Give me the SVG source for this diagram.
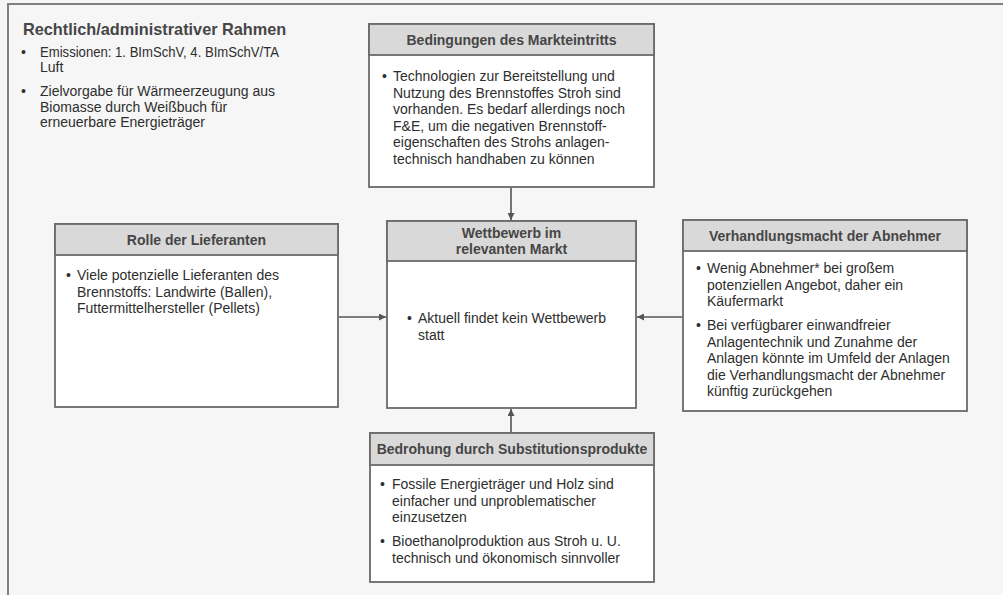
<svg xmlns="http://www.w3.org/2000/svg" width="1003" height="595" viewBox="0 0 1003 595">
<defs>
<style>
.bg{fill:#f6f6f6}
.frame{fill:none;stroke:#808080;stroke-width:2}
.box{fill:#ffffff;stroke:#6a6a6a;stroke-width:1.8}
.hdr{fill:#d9d9d9;stroke:#6a6a6a;stroke-width:1.8}
.ht{font-family:"Liberation Sans",Arial,sans-serif;font-size:14px;font-weight:bold;fill:#464646;text-anchor:middle}
.t{font-family:"Liberation Sans",Arial,sans-serif;font-size:14px;fill:#2e2e2e}
.title{font-family:"Liberation Sans",Arial,sans-serif;font-size:16.3px;font-weight:bold;fill:#464646}
.conn{stroke:#555;stroke-width:1.6;fill:none}
</style>
<marker id="ah" viewBox="0 0 10 10" refX="10" refY="5" markerWidth="7" markerHeight="7" markerUnits="userSpaceOnUse" orient="auto">
<path d="M0,0 L10,5 L0,10 z" fill="#555"/>
</marker>
</defs>
<rect class="bg" x="0" y="0" width="1003" height="595"/>
<path class="frame" d="M8,595 L8,4 L1003,4"/>

<g id="rahmen">
<text class="title" x="23" y="35">Rechtlich/administrativer Rahmen</text>
<text class="t" x="21" y="57">•</text>
<text class="t" x="40" y="57" textLength="239" lengthAdjust="spacingAndGlyphs">Emissionen: 1. BImSchV, 4. BImSchV/TA</text>
<text class="t" x="40" y="72">Luft</text>
<text class="t" x="21" y="96">•</text>
<text class="t" x="40" y="96">Zielvorgabe für Wärmeerzeugung aus</text>
<text class="t" x="40" y="111.5">Biomasse durch Weißbuch für</text>
<text class="t" x="40" y="127">erneuerbare Energieträger</text>
</g>

<g id="markteintritt">
<rect class="box" x="369" y="24" width="285" height="163"/>
<rect class="hdr" x="369" y="24" width="285" height="31"/>
<text class="ht" x="511.5" y="45">Bedingungen des Markteintritts</text>
<text class="t" x="382" y="81">•</text>
<text class="t" x="393" y="81">Technologien zur Bereitstellung und</text>
<text class="t" x="393" y="97.5">Nutzung des Brennstoffes Stroh sind</text>
<text class="t" x="393" y="114">vorhanden. Es bedarf allerdings noch</text>
<text class="t" x="393" y="130.5">F&amp;E, um die negativen Brennstoff-</text>
<text class="t" x="393" y="147">eigenschaften des Strohs anlagen-</text>
<text class="t" x="393" y="163.5">technisch handhaben zu können</text>
</g>

<g id="wettbewerb">
<rect class="box" x="387" y="221" width="249" height="187"/>
<rect class="hdr" x="387" y="221" width="249" height="40"/>
<text class="ht" x="511.5" y="238">Wettbewerb im</text>
<text class="ht" x="511.5" y="254">relevanten Markt</text>
<text class="t" x="407" y="323">•</text>
<text class="t" x="418" y="323">Aktuell findet kein Wettbewerb</text>
<text class="t" x="418" y="340">statt</text>
</g>

<g id="lieferanten">
<rect class="box" x="55" y="224" width="283" height="183"/>
<rect class="hdr" x="55" y="224" width="283" height="31"/>
<text class="ht" x="196.5" y="245">Rolle der Lieferanten</text>
<text class="t" x="66" y="280">•</text>
<text class="t" x="77" y="280">Viele potenzielle Lieferanten des</text>
<text class="t" x="77" y="296.5">Brennstoffs: Landwirte (Ballen),</text>
<text class="t" x="77" y="313">Futtermittelhersteller (Pellets)</text>
</g>

<g id="abnehmer">
<rect class="box" x="683" y="220" width="284" height="191"/>
<rect class="hdr" x="683" y="220" width="284" height="31"/>
<text class="ht" x="825" y="241">Verhandlungsmacht der Abnehmer</text>
<text class="t" x="696" y="273">•</text>
<text class="t" x="707" y="273">Wenig Abnehmer* bei großem</text>
<text class="t" x="707" y="289.5">potenziellen Angebot, daher ein</text>
<text class="t" x="707" y="306">Käufermarkt</text>
<text class="t" x="696" y="330">•</text>
<text class="t" x="707" y="330">Bei verfügbarer einwandfreier</text>
<text class="t" x="707" y="346.5">Anlagentechnik und Zunahme der</text>
<text class="t" x="707" y="363">Anlagen könnte im Umfeld der Anlagen</text>
<text class="t" x="707" y="379.5">die Verhandlungsmacht der Abnehmer</text>
<text class="t" x="707" y="396">künftig zurückgehen</text>
</g>

<g id="substitution">
<rect class="box" x="370" y="433" width="284" height="149"/>
<rect class="hdr" x="370" y="433" width="284" height="32"/>
<text class="ht" x="512" y="454">Bedrohung durch Substitutionsprodukte</text>
<text class="t" x="380" y="489">•</text>
<text class="t" x="392" y="489">Fossile Energieträger und Holz sind</text>
<text class="t" x="392" y="505.5">einfacher und unproblematischer</text>
<text class="t" x="392" y="522">einzusetzen</text>
<text class="t" x="380" y="546">•</text>
<text class="t" x="392" y="546">Bioethanolproduktion aus Stroh u. U.</text>
<text class="t" x="392" y="562.5">technisch und ökonomisch sinnvoller</text>
</g>

<g id="connectors">
<line class="conn" x1="511" y1="188" x2="511" y2="220" marker-end="url(#ah)"/>
<line class="conn" x1="511" y1="432" x2="511" y2="409" marker-end="url(#ah)"/>
<line class="conn" x1="339" y1="317" x2="386" y2="317" marker-end="url(#ah)"/>
<line class="conn" x1="682" y1="317" x2="637" y2="317" marker-end="url(#ah)"/>
</g>
</svg>
